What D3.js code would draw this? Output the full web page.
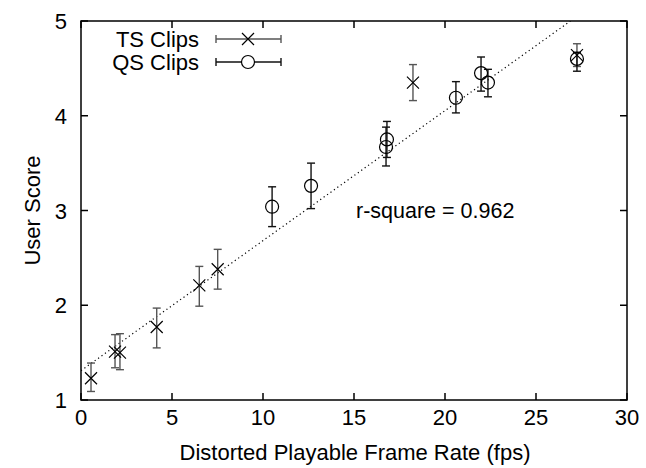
<!DOCTYPE html>
<html>
<head>
<meta charset="utf-8">
<script src="https://cdn.jsdelivr.net/npm/d3@7"></script>
<style>
  html, body { margin: 0; padding: 0; background: #fff; }
  svg { display: block; font-family: "Liberation Sans", Arial, Helvetica, sans-serif; }
</style>
</head>
<body>
<svg id="chart" width="646" height="468"></svg>
<script>
// TS clips: frame rate, mean user score, error bar low / high
const tsFps   = [0.55, 1.87, 2.14, 4.16, 6.5, 7.51, 18.24, 27.25];
const tsScore = [1.23, 1.51, 1.50, 1.77, 2.21, 2.38, 4.35, 4.64];
const tsLow   = [1.09, 1.34, 1.32, 1.55, 1.99, 2.17, 4.16, 4.52];
const tsHigh  = [1.39, 1.69, 1.70, 1.97, 2.41, 2.59, 4.54, 4.76];

// QS clips
const qsFps   = [10.5, 12.64, 16.76, 16.81, 20.6, 21.98, 22.36, 27.25];
const qsScore = [3.04, 3.26, 3.67, 3.75, 4.19, 4.45, 4.35, 4.60];
const qsLow   = [2.83, 3.02, 3.47, 3.56, 4.03, 4.26, 4.20, 4.47];
const qsHigh  = [3.25, 3.50, 3.88, 3.94, 4.36, 4.62, 4.49, 4.67];

// Linear fit across all clips
const fitIntercept = 1.31;
const fitSlope = 0.1372;
const rSquare = "0.962";

const xTicks = [0, 5, 10, 15, 20, 25, 30];
const yTicks = [1, 2, 3, 4, 5];

const svg = d3.select("#chart");
const plotLeft = 81, plotRight = 627, plotTop = 21, plotBottom = 400;

const x = d3.scaleLinear().domain([0, 30]).range([plotLeft, plotRight]);
const y = d3.scaleLinear().domain([1, 5]).range([plotBottom, plotTop]);

const FONT = 22;
const tickLen = 7;

// inward ticks on all four sides
const g = svg.append("g");
xTicks.forEach(t => {
  g.append("line").attr("x1", x(t)).attr("x2", x(t)).attr("y1", plotBottom).attr("y2", plotBottom - tickLen)
    .attr("stroke", "#000").attr("stroke-width", 1.5);
  g.append("line").attr("x1", x(t)).attr("x2", x(t)).attr("y1", plotTop).attr("y2", plotTop + tickLen)
    .attr("stroke", "#000").attr("stroke-width", 1.5);
  g.append("text").attr("x", x(t)).attr("y", plotBottom + 25).attr("text-anchor", "middle")
    .attr("font-size", FONT).text(t);
});
yTicks.forEach(t => {
  g.append("line").attr("x1", plotLeft).attr("x2", plotLeft + tickLen).attr("y1", y(t)).attr("y2", y(t))
    .attr("stroke", "#000").attr("stroke-width", 1.5);
  g.append("line").attr("x1", plotRight).attr("x2", plotRight - tickLen).attr("y1", y(t)).attr("y2", y(t))
    .attr("stroke", "#000").attr("stroke-width", 1.5);
  g.append("text").attr("x", plotLeft - 14).attr("y", y(t) + 8).attr("text-anchor", "end")
    .attr("font-size", FONT).text(t);
});

// fit line, clipped to the plot frame
svg.append("clipPath").attr("id", "plotClip").append("rect")
  .attr("x", plotLeft).attr("y", plotTop).attr("width", plotRight - plotLeft).attr("height", plotBottom - plotTop);
const xEnd = (5 - fitIntercept) / fitSlope;
svg.append("line")
  .attr("clip-path", "url(#plotClip)")
  .attr("x1", x(0)).attr("y1", y(fitIntercept))
  .attr("x2", x(xEnd)).attr("y2", y(5))
  .attr("stroke", "#000").attr("stroke-width", 1.2).attr("stroke-dasharray", "1.2,3");

function errorBars(fps, low, high, color) {
  const eg = svg.append("g").attr("stroke", color).attr("stroke-width", 1.4).attr("fill", "none");
  fps.forEach((f, i) => {
    const cx = x(f);
    eg.append("line").attr("x1", cx).attr("x2", cx).attr("y1", y(low[i])).attr("y2", y(high[i]));
    eg.append("line").attr("x1", cx - 4).attr("x2", cx + 4).attr("y1", y(low[i])).attr("y2", y(low[i]));
    eg.append("line").attr("x1", cx - 4).attr("x2", cx + 4).attr("y1", y(high[i])).attr("y2", y(high[i]));
  });
}
function crossMark(gSel, cx, cy) {
  const s = 6;
  gSel.append("path").attr("d", `M${cx - s},${cy - s}L${cx + s},${cy + s}M${cx - s},${cy + s}L${cx + s},${cy - s}`)
    .attr("stroke", "#000").attr("stroke-width", 1.2).attr("fill", "none");
}
function circleMark(gSel, cx, cy) {
  gSel.append("circle").attr("cx", cx).attr("cy", cy).attr("r", 6.5)
    .attr("stroke", "#000").attr("stroke-width", 1.2).attr("fill", "none");
}

errorBars(tsFps, tsLow, tsHigh, "#555");
errorBars(qsFps, qsLow, qsHigh, "#111");

const mg = svg.append("g");
tsFps.forEach((f, i) => crossMark(mg, x(f), y(tsScore[i])));
qsFps.forEach((f, i) => circleMark(mg, x(f), y(qsScore[i])));

// legend
const legend = [
  { label: "TS Clips", color: "#555", mark: crossMark },
  { label: "QS Clips", color: "#111", mark: circleMark }
];
legend.forEach((d, i) => {
  const ly = 39 + i * 23;
  svg.append("text").attr("x", 199).attr("y", ly + 8).attr("text-anchor", "end")
    .attr("font-size", FONT).text(d.label);
  const lg = svg.append("g").attr("stroke", d.color).attr("stroke-width", 1.4);
  lg.append("line").attr("x1", 216).attr("x2", 281).attr("y1", ly).attr("y2", ly);
  lg.append("line").attr("x1", 216).attr("x2", 216).attr("y1", ly - 4).attr("y2", ly + 4);
  lg.append("line").attr("x1", 281).attr("x2", 281).attr("y1", ly - 4).attr("y2", ly + 4);
  if (d.mark === circleMark) {
    svg.append("circle").attr("cx", 248).attr("cy", ly).attr("r", 6.5).attr("fill", "#fff");
  }
  d.mark(svg, 248, ly);
});

// frame
svg.append("rect").attr("x", plotLeft).attr("y", plotTop).attr("width", plotRight - plotLeft).attr("height", plotBottom - plotTop)
  .attr("fill", "none").attr("stroke", "#000").attr("stroke-width", 1.5);

// annotation and axis titles
svg.append("text").attr("x", 356).attr("y", 218).attr("font-size", 21.5).text(`r-square = ${rSquare}`);
svg.append("text").attr("x", (plotLeft + plotRight) / 2 + 1).attr("y", 460).attr("text-anchor", "middle")
  .attr("font-size", FONT).text("Distorted Playable Frame Rate (fps)");
svg.append("text").attr("transform", `translate(40,${(plotTop + plotBottom) / 2}) rotate(-90)`)
  .attr("text-anchor", "middle").attr("font-size", FONT).text("User Score");
</script>
</body>
</html>
